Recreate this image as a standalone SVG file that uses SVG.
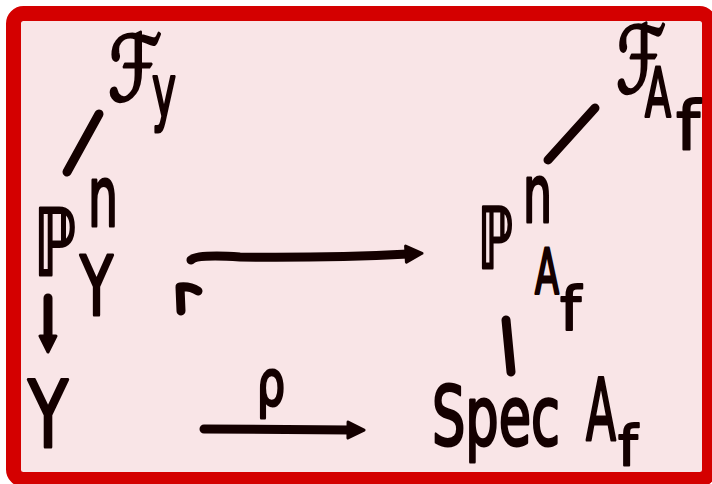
<svg xmlns="http://www.w3.org/2000/svg" width="712" height="484" viewBox="0 0 712 484">
<style>
.t{font-family:"DejaVu Sans","Liberation Sans",sans-serif;fill:#140000;stroke:#140000;stroke-width:3;stroke-linejoin:round}
.f{font-family:"DejaVu Sans","Liberation Sans",sans-serif;fill:#140000;stroke:#140000;stroke-width:2;stroke-linejoin:round}
.c{fill:none;stroke:#140000;stroke-width:9;stroke-linecap:round;stroke-linejoin:round}
</style>
<defs>
<marker id="ah" viewBox="0 0 20 20" refX="4" refY="10" markerWidth="20" markerHeight="20" markerUnits="userSpaceOnUse" orient="auto">
<path d="M2,2 L18,10 L2,18 Z" fill="#140000" stroke="#140000" stroke-width="3" stroke-linejoin="round"/>
</marker>
</defs>
<rect x="0" y="0" width="712" height="484" fill="#ffffff"/>
<rect x="13.5" y="13.5" width="696" height="466" rx="10" fill="#f9e5e7" stroke="#d40000" stroke-width="15"/>
<g id="FY">
<text class="t" x="108" y="100" font-size="90" textLength="54" lengthAdjust="spacingAndGlyphs">ℱ</text>
<text class="t" x="152" y="117" font-size="73" textLength="24" lengthAdjust="spacingAndGlyphs">y</text>
</g>
<g id="PnY">
<text class="t" x="34" y="275" font-size="92" textLength="42" lengthAdjust="spacingAndGlyphs">ℙ</text>
<text class="t" x="88" y="226" font-size="84" textLength="30" lengthAdjust="spacingAndGlyphs">n</text>
<text class="t" x="80" y="315" font-size="82" textLength="33" lengthAdjust="spacingAndGlyphs">Y</text>
</g>
<g id="Y">
<text class="t" x="28" y="447" font-size="92" textLength="40" lengthAdjust="spacingAndGlyphs">Y</text>
</g>
<g id="FAf">
<text class="t" x="616" y="92" font-size="92" textLength="50" lengthAdjust="spacingAndGlyphs">ℱ</text>
<text class="t" x="645" y="117" font-size="67" textLength="26" lengthAdjust="spacingAndGlyphs">A</text>
<text class="f" x="676" y="150" font-size="68">f</text>
</g>
<g id="PnAf">
<text class="t" x="478" y="268" font-size="84" textLength="35" lengthAdjust="spacingAndGlyphs">ℙ</text>
<text class="t" x="523" y="222" font-size="80" textLength="29" lengthAdjust="spacingAndGlyphs">n</text>
<text class="t" x="535" y="294" font-size="62" textLength="24" lengthAdjust="spacingAndGlyphs">A</text>
<text class="f" x="560" y="330" font-size="60">f</text>
</g>
<g id="SpecAf">
<text class="t" x="432" y="445" font-size="82" textLength="128" lengthAdjust="spacingAndGlyphs">Spec</text>
<text class="t" x="586" y="440" font-size="85" textLength="30" lengthAdjust="spacingAndGlyphs">A</text>
<text class="f" x="618" y="465" font-size="56">f</text>
</g>
<g id="connectors">
<path class="c" d="M99,114 L67,172"/>
<path class="c" d="M48,298 L48,338" marker-end="url(#ah)"/>
<path class="c" stroke-width="8" d="M181,311 L180,287 Q190,286 198,291"/>
<path class="c" d="M191,260 Q196,254 240,257 Q330,258 408,254" marker-end="url(#ah)"/>
<path class="c" d="M204,429 L350,430" marker-end="url(#ah)"/>
<text class="t" x="257" y="405" font-size="62" textLength="28" lengthAdjust="spacingAndGlyphs">ρ</text>
<path class="c" d="M595,108 L548,160"/>
<path class="c" d="M506,320 L511,372"/>
</g>
</svg>
